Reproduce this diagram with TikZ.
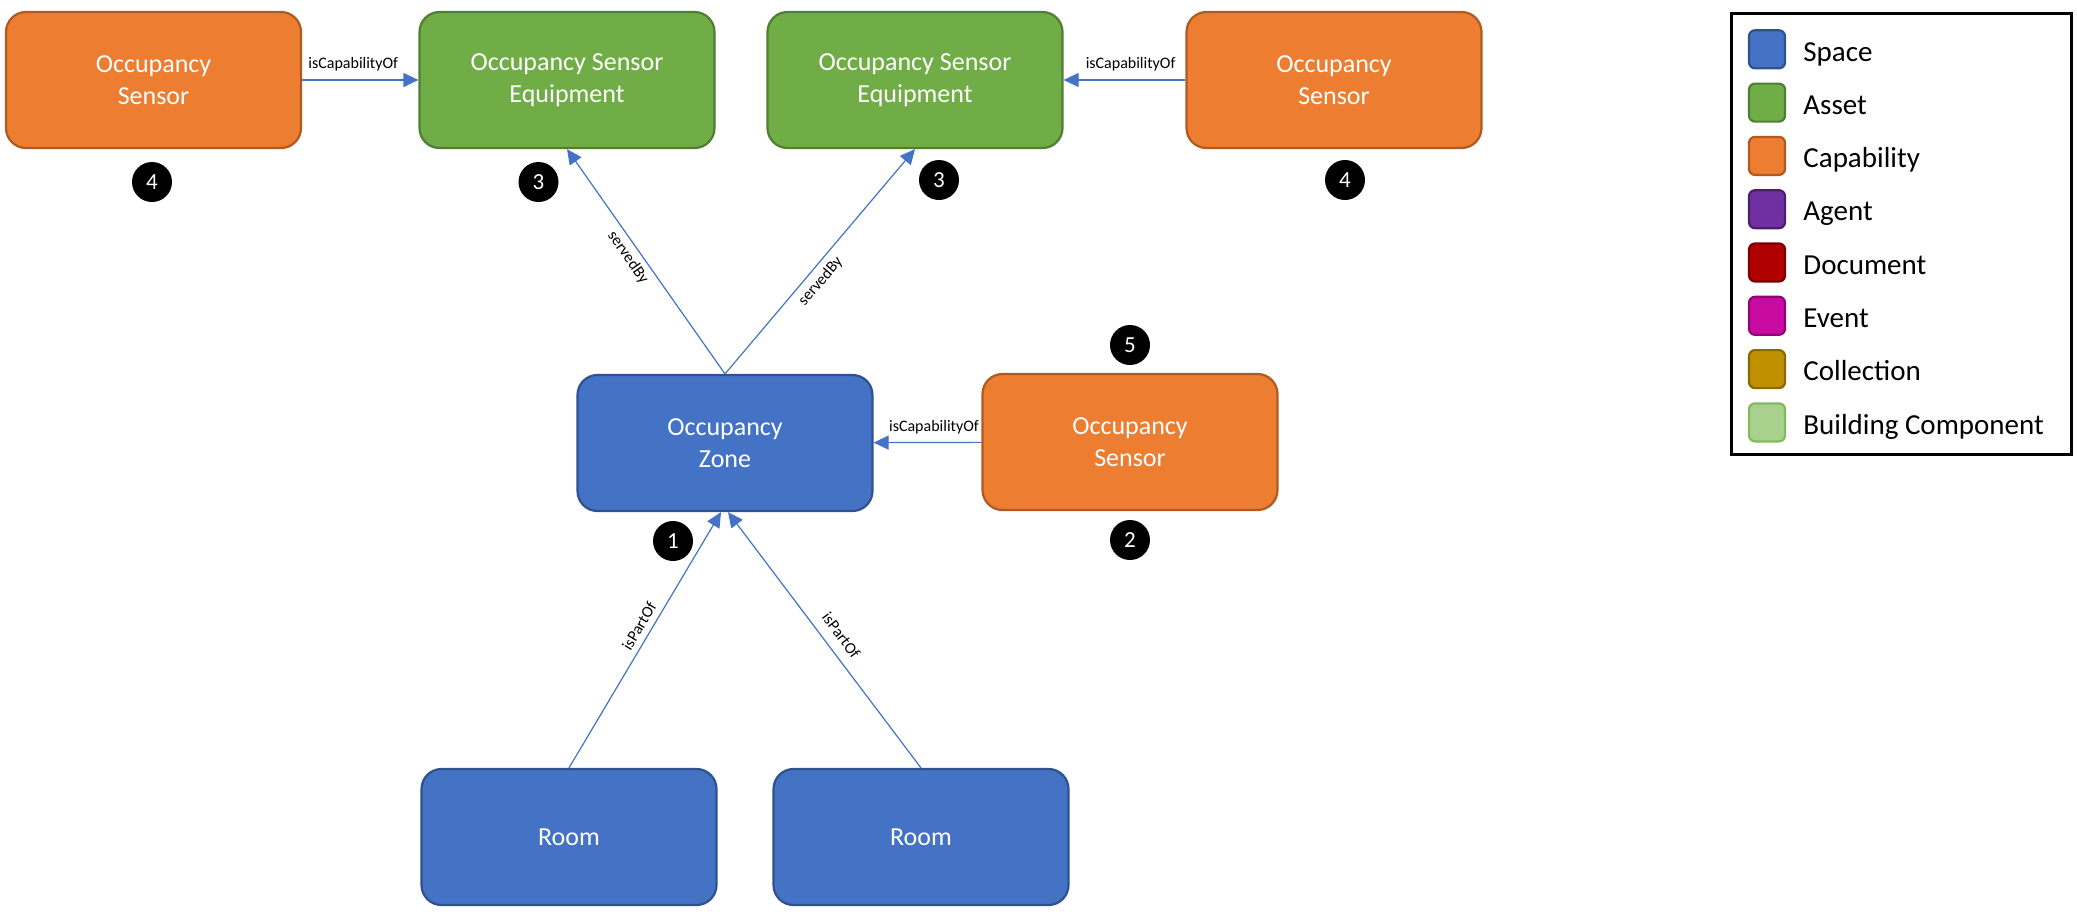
\documentclass[tikz,border=0pt]{standalone}
\usepackage{fontspec}
\setmainfont{Carlito}
\usetikzlibrary{arrows.meta}
\definecolor{spaceF}{HTML}{4472C4}\definecolor{spaceD}{HTML}{2F528F}
\definecolor{assetF}{HTML}{70AD47}\definecolor{assetD}{HTML}{507E32}
\definecolor{capF}{HTML}{ED7D31}\definecolor{capD}{HTML}{AE5A21}
\definecolor{agentF}{HTML}{7030A0}\definecolor{agentD}{HTML}{4A1F6E}
\definecolor{docF}{HTML}{B00000}\definecolor{docD}{HTML}{7A0000}
\definecolor{eventF}{HTML}{C80AA0}\definecolor{eventD}{HTML}{8E0873}
\definecolor{collF}{HTML}{BF9000}\definecolor{collD}{HTML}{8C6900}
\definecolor{bcF}{HTML}{A9D18E}\definecolor{bcD}{HTML}{80BC5E}
\definecolor{relC}{HTML}{4472C4}
\begin{document}
\begin{tikzpicture}[x=0.5pt,y=-0.5pt,
  box/.style={rectangle, rounded corners=10pt, minimum width=147.5pt, minimum height=68pt,
    line width=1.1pt, text=white, align=center, font=\fontsize{13}{15.9}\selectfont},
  spacebox/.style={box, fill=spaceF, draw=spaceD},
  assetbox/.style={box, fill=assetF, draw=assetD},
  capbox/.style={box, fill=capF, draw=capD},
  badge/.style={circle, fill=black, text=white, minimum size=20pt, inner sep=0pt,
    font=\fontsize{11.5}{12}\selectfont},
  rel/.style={draw=relC, line width=0.6pt, -{Triangle[length=7.5pt,width=7pt]}},
  lab/.style={font=\fontsize{8}{9.6}\selectfont, inner sep=3pt, text=black},
  hlab/.style={lab, inner sep=4pt},
  sw/.style={rectangle, rounded corners=3pt, minimum width=18pt, minimum height=19pt, line width=1.1pt},
  legtext/.style={anchor=base west, inner sep=0pt, font=\fontsize{14.5}{17}\selectfont}
]
\useasboundingbox (0,0) rectangle (2077,911);

% boxes
\node[capbox]   (oTL)  at (153.5,80) {Occupancy\\Sensor};
\node[assetbox] (g1)   at (567,80)   {Occupancy Sensor\\Equipment};
\node[assetbox] (g2)   at (915,80)   {Occupancy Sensor\\Equipment};
\node[capbox]   (oTR)  at (1334,80)  {Occupancy\\Sensor};
\node[spacebox] (zone) at (725,443)  {Occupancy\\Zone};
\node[capbox]   (oM)   at (1130,442) {Occupancy\\Sensor};
\node[spacebox] (r1)   at (569,837)  {Room};
\node[spacebox] (r2)   at (921,837)  {Room};

% badges
\node[badge] (b4a) at (152,182)  {4};
\node[badge] (b3a) at (538.5,182) {3};
\node[badge] (b3b) at (939,180)  {3};
\node[badge] (b4b) at (1345,180) {4};
\node[badge] (b5)  at (1130,345) {5};
\node[badge] (b2)  at (1130,540) {2};
\node[badge] (b1)  at (673,541)  {1};

% connectors
\draw[rel] (oTL) -- node[hlab, above, pos=0.44] {isCapabilityOf} (g1);
\draw[rel] (oTR) -- node[hlab, above, pos=0.45] {isCapabilityOf} (g2);
\draw[rel] (oM)  -- node[hlab, above, pos=0.44] {isCapabilityOf} (zone);
\draw[rel] (zone.north) -- node[lab, sloped, below, pos=0.55, inner sep=2.5pt] {servedBy} (g1.south);
\draw[rel] (zone.north) -- node[lab, sloped, below, pos=0.45] {servedBy} (g2.south);
\draw[rel] (r1.north) -- node[lab, sloped, above, pos=0.53] {isPartOf} ([xshift=-2pt]zone.south);
\draw[rel] (r2.north) -- node[lab, sloped, above, pos=0.48, inner sep=5pt] {isPartOf} ([xshift=1.5pt]zone.south);

% legend
\node[draw=black, line width=1.5pt, minimum width=170pt, minimum height=220.5pt,
  anchor=north west, inner sep=0pt] (legend) at (1730,12) {};
\foreach \i/\f/\d/\t in {0/spaceF/spaceD/Space, 1/assetF/assetD/Asset, 2/capF/capD/Capability,
  3/agentF/agentD/Agent, 4/docF/docD/Document, 5/eventF/eventD/Event,
  6/collF/collD/Collection, 7/bcF/bcD/Building Component}{
  \node[sw, fill=\f, draw=\d] (sw\i) at (1767,49.3+53.3*\i) {};
  \node[legtext] (lt\i) at (1803,61+53.3*\i) {\t};
}
\end{tikzpicture}
\end{document}
